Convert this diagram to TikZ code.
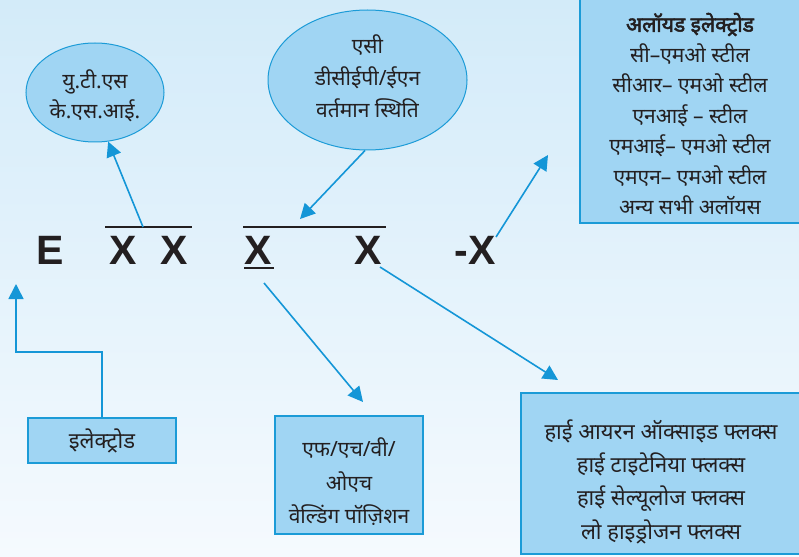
\documentclass[tikz,border=0pt]{standalone}
\usepackage{fontspec}
\usetikzlibrary{shapes.geometric,arrows.meta}
\newfontfamily\hindi[Script=Devanagari]{Noto Sans}
\newfontfamily\hindibold[Script=Devanagari,FakeBold=2.5]{Noto Sans}
\newfontfamily\latn{Liberation Sans}
\definecolor{bgtop}{RGB}{211,235,249}
\definecolor{bgbot}{RGB}{245,250,254}
\definecolor{boxfill}{RGB}{160,213,243}
\definecolor{boxline}{RGB}{27,155,215}
\definecolor{arrowc}{RGB}{20,150,215}
\definecolor{ink}{RGB}{35,31,32}
\tikzset{
  box/.style={rectangle, draw=boxline, fill=boxfill, line width=1.5pt, inner sep=0pt, align=center, text=ink, font=\hindi\fontsize{21}{30}\selectfont},
  txt/.style={inner sep=0pt, align=center, text=ink, font=\hindi\fontsize{21}{30}\selectfont},
  ell/.style={ellipse, draw=boxline, fill=boxfill, line width=1pt, inner sep=0pt, align=center, text=ink, font=\hindi\fontsize{21}{30}\selectfont},
  arr/.style={draw=arrowc, line width=1.6pt, -{Triangle[length=15pt,width=15pt]}},
  lett/.style={font=\latn\bfseries\fontsize{41}{41}\selectfont, text=ink, inner sep=0pt, anchor=base},
  bar/.style={draw=ink, line width=2pt}
}
\begin{document}
\begin{tikzpicture}[x=1pt,y=-1pt]
\useasboundingbox (0,0) rectangle (799,556);
\shade[top color=bgtop,bottom color=bgbot] (0,0) rectangle (799,556);

% boxes
\node[box, minimum width=220pt, minimum height=224pt] (alloy) at (690,111) {};
\node[txt, font=\hindi\fontsize{21}{30.5}\selectfont] (alloyT) at (690,114) {%
  {\hindibold अलॉयड इलेक्ट्रोड}\\ सी–एमओ स्टील\\ सीआर– एमओ स्टील\\ एनआई – स्टील\\ एमआई– एमओ स्टील\\ एमएन– एमओ स्टील\\ अन्य सभी अलॉयस};
\node[box, minimum width=148pt, minimum height=45pt, font=\hindi\fontsize{22}{30}\selectfont] (elec) at (102,440.5) {इलेक्ट्रोड};
\node[box, minimum width=148pt, minimum height=118pt] (pos) at (349,475) {};
\node[txt, font=\hindi\fontsize{21}{33.5}\selectfont] (posT) at (349,482) {एफ/एच/वी/\\ ओएच\\ वेल्डिंग पॉज़िशन};
\node[box, minimum width=279pt, minimum height=161pt] (flux) at (660.5,473.5) {};
\node[txt, font=\hindi\fontsize{22}{33.3}\selectfont] (fluxT) at (661,481.5) {हाई आयरन ऑक्साइड फ्लक्स\\ हाई टाइटेनिया फ्लक्स\\ हाई सेल्यूलोज फ्लक्स\\ लो हाइड्रोजन फ्लक्स};

% ellipses
\node[ell, minimum width=138pt, minimum height=99pt] (e1) at (95,92.5) {};
\node[txt] (e1T) at (95,95.5) {यु.टी.एस\\ के.एस.आई.};
\node[ell, minimum width=199pt, minimum height=140pt] (e2) at (367.5,80) {};
\node[txt, font=\hindi\fontsize{21}{32}\selectfont] (e2T) at (367.5,76) {एसी\\ डीसीईपी/ईएन\\ वर्तमान स्थिति};

% letters
\node[lett] (E) at (50,264) {E};
\node[lett] (X1) at (123,264) {X};
\node[lett] (X2) at (174,264) {X};
\node[lett] (X3) at (258,264) {X};
\node[lett] (X4) at (368,264) {X};
\node[lett] (X5) at (475,264) {-X};

% bars
\coordinate (b1a) at (105,227); \coordinate (b1b) at (192,227);
\coordinate (b2a) at (243,227); \coordinate (b2b) at (386,227);
\coordinate (u1a) at (244,268); \coordinate (u1b) at (274,268);
\draw[bar] (b1a) -- (b1b);
\draw[bar] (b2a) -- (b2b);
\draw[bar] (u1a) -- (u1b);

% arrow coordinates
\coordinate (s1) at (143,227);
\coordinate (t2) at (300,219);
\coordinate (s3) at (496,237);
\coordinate (t3) at (548,155);
\coordinate (c4) at (16,352);
\coordinate (t4) at (16,284);
\coordinate (s5) at (264,283);
\coordinate (t5) at (363,402);
\coordinate (s6) at (380,267);
\coordinate (t6) at (558,380);

\draw[arr] (s1) -- (e1.285);
\draw[arr] (e2.268) -- (t2);
\draw[arr] (s3) -- (t3);
\draw[arr] (elec.north) |- (c4) -- (t4);
\draw[arr] (s5) -- (t5);
\draw[arr] (s6) -- (t6);
\end{tikzpicture}
\end{document}
